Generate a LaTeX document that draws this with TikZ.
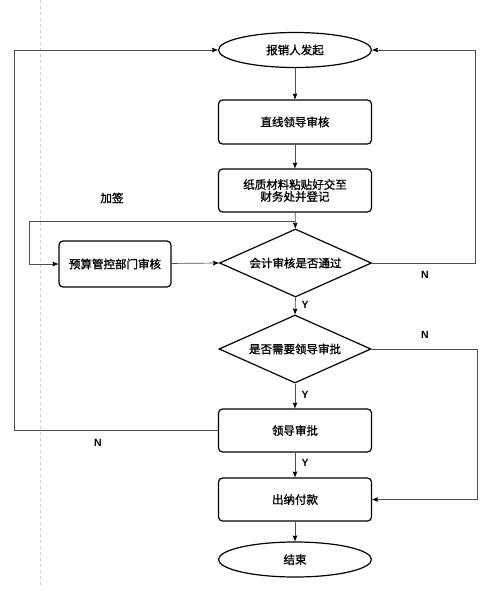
\documentclass[tikz,border=0pt]{standalone}
\usepackage{fontspec}
\newfontfamily\cjk[FakeBold=1.2]{Noto Sans CJK SC}
\newfontfamily\lat{Liberation Sans}
\usetikzlibrary{shapes.geometric,arrows.meta}
\tikzset{
  base/.style={draw=black,line width=1.2pt,font=\cjk\fontsize{11.5}{14}\selectfont,align=center,inner sep=0pt},
  proc/.style={base,rectangle,rounded corners=4pt,minimum width=153pt,minimum height=43pt},
  term/.style={base,ellipse,minimum width=153pt,minimum height=35pt},
  dec/.style={base,diamond,aspect=2.2,minimum width=152pt,minimum height=68pt},
  conn/.style={draw=black!70,line width=0.7pt},
  arr/.style={conn,-{Stealth[length=6pt,width=4.5pt,inset=1pt,black]}},
  lab/.style={font=\lat\bfseries\fontsize{10.5}{12}\selectfont,inner sep=0pt}
}
\begin{document}
\begin{tikzpicture}[x=1pt,y=-1pt]
\useasboundingbox (0,0) rectangle (484,591);
\draw[gray!40,dashed,line width=0.6pt] (40,0) -- (40,588);
\node[term] (start) at (295,50) {报销人发起};
\node[proc,minimum height=44pt] (lead) at (295,122) {直线领导审核};
\node[proc] (paper) at (295,190.5) {纸质材料粘贴好交至\\[-2pt]财务处并登记};
\node[dec] (d1) at (295.5,263) {会计审核是否通过};
\node[proc,minimum width=112pt,minimum height=46pt] (budget) at (115,264) {预算管控部门审核};
\node[dec] (d2) at (295,349) {是否需要领导审批};
\node[proc] (appr) at (295,430.5) {领导审批};
\node[proc] (pay) at (295,499.5) {出纳付款};
\node[term] (end) at (295,559.5) {结束};
\coordinate (br) at (295,221);
\coordinate (c1) at (29,221);
\coordinate (c2) at (29,264);
\coordinate (r1) at (475,263);
\coordinate (r2) at (475,50);
\coordinate (q1) at (477,349);
\coordinate (q2) at (477,499.5);
\coordinate (l1) at (14,430.5);
\coordinate (l2) at (14,50);
\draw[arr] (start) -- (lead);
\draw[arr] (lead) -- (paper);
\draw[arr] (paper) -- (d1);
\draw[arr] (br) -- (c1) -- (c2) -- (budget.west);
\draw[arr] (budget) -- (d1.west);
\draw[arr] (d1.east) -- (r1) -- (r2) -- (start.east);
\draw[arr] (d1.south) -- (d2.north);
\draw[arr] (d2.east) -- (q1) -- (q2) -- (pay.east);
\draw[arr] (d2.south) -- (appr.north);
\draw[arr] (appr.west) -- (l1) -- (l2) -- (start.west);
\draw[arr] (appr) -- (pay);
\draw[arr] (pay) -- (end);
\node[font=\cjk\fontsize{11.5}{14}\selectfont,inner sep=0pt] (jq) at (112,198) {加签};
\node[lab] (n1) at (425,275) {N};
\node[lab] (y1) at (305,305) {Y};
\node[lab] (n2) at (425,335) {N};
\node[lab] (y2) at (305,395) {Y};
\node[lab] (n3) at (98,443) {N};
\node[lab] (y3) at (305,463) {Y};
\end{tikzpicture}
\end{document}
